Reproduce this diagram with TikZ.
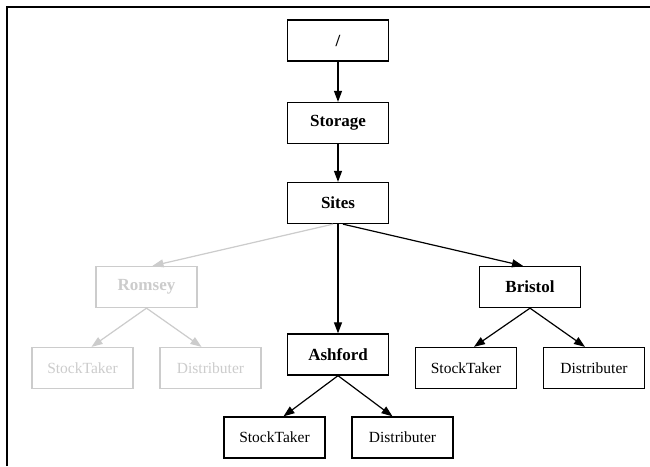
\documentclass[tikz,border=0pt]{standalone}
\usepackage{fontspec}
\setmainfont{Liberation Serif}
\usetikzlibrary{arrows.meta}
\definecolor{faded}{RGB}{204,204,204}
\tikzset{
  box/.style={draw, line width=1.3pt, minimum width=101pt, minimum height=41pt, inner sep=0pt, fill=white},
  mainlbl/.style={font=\fontsize{17}{19}\selectfont\bfseries},
  leaflbl/.style={font=\fontsize{15.5}{18}\selectfont},
  faint/.style={draw=faded, text=faded},
  link/.style={line width=1.2pt, -{Triangle[length=11pt,width=8pt]}},
}
\begin{document}
\begin{tikzpicture}[x=1pt,y=-1pt]
\useasboundingbox (0,0) rectangle (650,466);
\fill[white] (0,0) rectangle (650,466);
\draw[line width=2pt] (7,466) -- (7,7) -- (650,7);

\node[box,mainlbl] (root) at (338,40.5) {/};
\node[box,mainlbl] (storage) at (338,123) {Storage};
\node[box,mainlbl] (sites) at (338,203) {Sites};
\node[box,mainlbl,faint] (romsey) at (146.5,287) {Romsey};
\node[box,mainlbl] (bristol) at (530,287) {Bristol};
\node[box,mainlbl] (ashford) at (338,354.5) {Ashford};
\node[box,leaflbl,faint] (rst) at (82.5,368) {StockTaker};
\node[box,leaflbl,faint] (rdi) at (210.5,368) {Distributer};
\node[box,leaflbl] (bst) at (466,368) {StockTaker};
\node[box,leaflbl] (bdi) at (594,368) {Distributer};
\node[box,leaflbl] (ast) at (274.5,437.5) {StockTaker};
\node[box,leaflbl] (adi) at (402.5,437.5) {Distributer};

\draw[link] (root) -- (storage);
\draw[link] (storage) -- (sites);
\draw[link,draw=faded,fill=faded] ([xshift=-5pt]sites.south) -- ([xshift=6pt]romsey.north);
\draw[link] ([xshift=5pt]sites.south) -- ([xshift=-7pt]bristol.north);
\draw[link] (sites) -- (ashford);
\draw[link,draw=faded,fill=faded] (romsey.south) -- ([xshift=9pt]rst.north);
\draw[link,draw=faded,fill=faded] (romsey.south) -- ([xshift=-9pt]rdi.north);
\draw[link] (bristol.south) -- ([xshift=8pt]bst.north);
\draw[link] (bristol.south) -- ([xshift=-9pt]bdi.north);
\draw[link] (ashford.south) -- ([xshift=9pt]ast.north);
\draw[link] (ashford.south) -- ([xshift=-10pt]adi.north);
\end{tikzpicture}
\end{document}
